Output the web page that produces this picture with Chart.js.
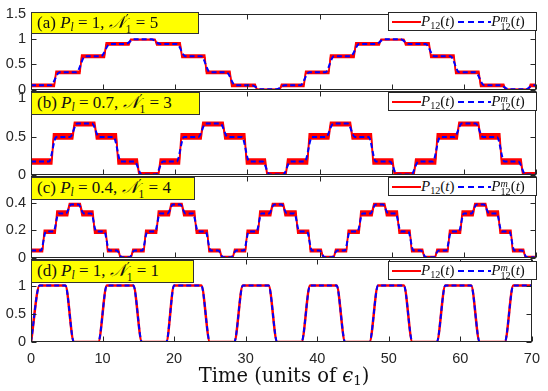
<!DOCTYPE html>
<html>
<head>
<meta charset="utf-8">
<script src="https://cdn.jsdelivr.net/npm/chart.js@4.4.0/dist/chart.umd.min.js"></script>
<style>
  html, body { margin:0; padding:0; background:#fff; }
  #wrap { position:relative; width:548px; height:391px; overflow:hidden; }
  canvas { position:absolute; left:0; top:0; }
  .lab { position:absolute; background:#ffff00; border:1px solid #333; box-sizing:border-box;
         font-family:"Liberation Serif","DejaVu Serif",serif; font-size:17px; line-height:20px;
         padding-left:5px; white-space:nowrap; color:#111; z-index:5; }
  .leg { position:absolute; background:#fff; border:1px solid #262626; box-sizing:border-box;
         font-family:"Liberation Serif","DejaVu Serif",serif; font-size:15px; line-height:17px;
         white-space:nowrap; color:#111; z-index:5; width:149px; height:19px; padding-left:3px; }
  .leg svg { vertical-align:middle; margin-top:-2px; }
  sub { font-size:68%; vertical-align:-3px; line-height:0; }
  .ss { display:inline-block; vertical-align:-4px; line-height:8px; font-size:68%; text-align:left; }
  .ss span { display:block; }
  .ns { display:inline-block; vertical-align:-5px; line-height:10px; text-align:left; margin-left:1px; }
  .ns .p { display:block; font-family:"DejaVu Serif",serif; font-size:13px; height:9px; }
  .ns .s { display:block; font-size:11.5px; }
  #xt { position:absolute; left:0; width:548px; top:364px; text-align:center; z-index:5;
        font-family:"DejaVu Serif","Liberation Serif",serif; font-size:19.5px; color:#111; padding-left:20px; box-sizing:border-box; }
</style>
</head>
<body>
<div id="wrap">
  <canvas id="ca" width="548" height="391"></canvas>
  <canvas id="cb" width="548" height="391"></canvas>
  <canvas id="cc" width="548" height="391"></canvas>
  <canvas id="cd" width="548" height="391"></canvas>

  <div class="lab" style="left:31px;top:12px;width:168px;height:22px">(a) <i>P<sub>l</sub></i> = 1, <i>𝒩</i><span class="ns"><span class="p">′</span><span class="s">1</span></span> = 5</div>
  <div class="lab" style="left:31px;top:92px;width:169px;height:23px">(b) <i>P<sub>l</sub></i> = 0.7, <i>𝒩</i><span class="ns"><span class="p">′</span><span class="s">1</span></span> = 3</div>
  <div class="lab" style="left:31px;top:177px;width:164px;height:23px">(c) <i>P<sub>l</sub></i> = 0.4, <i>𝒩</i><span class="ns"><span class="p">′</span><span class="s">1</span></span> = 4</div>
  <div class="lab" style="left:31px;top:260px;width:163px;height:23px">(d) <i>P<sub>l</sub></i> = 1, <i>𝒩</i><span class="ns"><span class="p">′</span><span class="s">1</span></span> = 1</div>

  <div class="leg" style="left:388px;top:12px"><svg width="29" height="6"><line x1="0" y1="3" x2="29" y2="3" stroke="#ff0000" stroke-width="2"/></svg><i>P</i><sub>12</sub>(<i>t</i>) <svg width="33" height="6"><line x1="0" y1="3" x2="33" y2="3" stroke="#0000ff" stroke-width="2" stroke-dasharray="6,4"/></svg><i>P</i><span class="ss"><span><i>m</i></span><span>12</span></span>(<i>t</i>)</div>
  <div class="leg" style="left:388px;top:92px"><svg width="29" height="6"><line x1="0" y1="3" x2="29" y2="3" stroke="#ff0000" stroke-width="2"/></svg><i>P</i><sub>12</sub>(<i>t</i>) <svg width="33" height="6"><line x1="0" y1="3" x2="33" y2="3" stroke="#0000ff" stroke-width="2" stroke-dasharray="6,4"/></svg><i>P</i><span class="ss"><span><i>m</i></span><span>12</span></span>(<i>t</i>)</div>
  <div class="leg" style="left:388px;top:177px"><svg width="29" height="6"><line x1="0" y1="3" x2="29" y2="3" stroke="#ff0000" stroke-width="2"/></svg><i>P</i><sub>12</sub>(<i>t</i>) <svg width="33" height="6"><line x1="0" y1="3" x2="33" y2="3" stroke="#0000ff" stroke-width="2" stroke-dasharray="6,4"/></svg><i>P</i><span class="ss"><span><i>m</i></span><span>12</span></span>(<i>t</i>)</div>
  <div class="leg" style="left:388px;top:261px"><svg width="29" height="6"><line x1="0" y1="3" x2="29" y2="3" stroke="#ff0000" stroke-width="2"/></svg><i>P</i><sub>12</sub>(<i>t</i>) <svg width="33" height="6"><line x1="0" y1="3" x2="33" y2="3" stroke="#0000ff" stroke-width="2" stroke-dasharray="6,4"/></svg><i>P</i><span class="ss"><span><i>m</i></span><span>12</span></span>(<i>t</i>)</div>

  <div id="xt">Time (units of <i>ϵ</i><sub>1</sub>)</div>
</div>
<script>
// ---------- shared x axis ----------
const xTickVals = [0, 10, 20, 30, 40, 50, 60, 70];

// ---------- panel (a): P_l = 1, N'_1 = 5 ----------
const edgesA = [0, 3.35, 6.9, 10.3, 13.7, 17.3, 20.8, 24.2, 27.7, 31.2, 34.6,
                37.95, 41.4, 44.9, 48.4, 51.8, 55.3, 58.75, 62.2, 65.65, 69.1, 72.5];
const stepsA = [1, 2, 3, 4, 5, 4, 3, 2, 1, 0, 1, 2, 3, 4, 5, 4, 3, 2, 1, 0, 1];
const bandLoA = [0, 0.058, 0.315, 0.635, 0.88, 0.982];
const bandHiA = [0.006, 0.105, 0.36, 0.685, 0.925, 0.996];
const blueA = [0.003, 0.085, 0.34, 0.658, 0.9, 0.995];
const yTicksA = [0, 0.5, 1, 1.5];

// ---------- panel (b): P_l = 0.7, N'_1 = 3 ----------
const edgesB = [0, 3.0, 5.9, 8.95, 11.95, 14.85, 17.8, 20.7, 23.7, 26.75, 29.75, 32.6,
                35.45, 38.45, 41.4, 44.4, 47.3, 50.25, 53.2, 56.2, 59.2, 62.15, 65.1, 68.05, 71];
const stepsB = [1, 2, 3, 2, 1, 0, 1, 2, 3, 2, 1, 0, 1, 2, 3, 2, 1, 0, 1, 2, 3, 2, 1, 0];
const bandLoB = [0, 0.143, 0.468, 0.643];
const bandHiB = [0.03, 0.207, 0.537, 0.687];
const blueB = [0.005, 0.175, 0.495, 0.67];
const yTicksB = [0, 0.5, 1];

// ---------- panel (c): P_l = 0.4, N'_1 = 4 ----------
const edgesC = [0, 1.72, 3.47, 5.2, 6.95, 8.7, 10.5, 12.25, 14.0, 15.78, 17.53, 19.3, 21.05,
                22.8, 24.55, 26.3, 28.1, 29.85, 31.6, 33.35, 35.1, 36.85, 38.6, 40.35, 42.1,
                43.85, 45.6, 47.4, 49.15, 50.9, 52.65, 54.4, 56.15, 57.9, 59.65, 61.4, 63.15,
                64.9, 66.65, 68.4, 70.15];
const stepsC = [1, 2, 3, 4, 3, 2, 1, 0, 1, 2, 3, 4, 3, 2, 1, 0, 1, 2, 3, 4, 3, 2, 1, 0,
                1, 2, 3, 4, 3, 2, 1, 0, 1, 2, 3, 4, 3, 2, 1, 0];
const bandLoC = [0, 0.043, 0.177, 0.305, 0.375];
const bandHiC = [0.008, 0.061, 0.199, 0.34, 0.394];
const blueC = [0.003, 0.052, 0.19, 0.322, 0.386];
const yTicksC = [0, 0.2, 0.4];

// ---------- panel (d): P_l = 1, N'_1 = 1 ----------
const timeD = [0, 1.2, 4.8, 6.0, 9.4, 10.6, 14.3, 15.5, 18.9, 20.0, 23.8, 25.0, 28.4, 29.6,
               33.2, 34.4, 37.8, 39.0, 42.7, 43.9, 47.3, 48.5, 52.1, 53.3, 56.7, 57.9,
               61.5, 62.7, 66.2, 67.4, 70];
const probD = [0, 1, 1, 0, 0, 1, 1, 0, 0, 1, 1, 0, 0, 1, 1, 0, 0, 1, 1, 0, 0, 1, 1, 0, 0, 1,
               1, 0, 0, 1, 1];
const yTicksD = [0, 0.5, 1];

// ---------- helpers building the point tables ----------
function stepTable(edges, steps, vals, inset) {
  const pts = [];
  for (let k = 0; k < steps.length; k++) {
    const v = vals[steps[k]];
    pts.push({ x: edges[k] + (k ? inset : 0), y: v });
    pts.push({ x: edges[k + 1] - inset, y: v });
  }
  return pts;
}
function pairTable(xs, ys) { return xs.map((x, i) => ({ x: x, y: ys[i] })); }

const RED = '#ff0000', BLUE = '#0000ff', INK = '#262626';
const tickFont = { family: "'Liberation Sans', Arial, sans-serif", size: 14.5 };

const framePlugin = {
  id: 'frame',
  afterDatasetsDraw(chart) {
    const { ctx, chartArea: a, scales } = chart;
    const x = scales.x, y = scales.y;
    ctx.save();
    ctx.strokeStyle = INK;
    ctx.lineWidth = 1;
    const L = Math.round(a.left) + 0.5, R = Math.round(a.right) - 0.5;
    const T = Math.round(a.top) + 0.5, B = Math.round(a.bottom) - 0.5;
    ctx.strokeRect(L, T, R - L, B - T);
    ctx.beginPath();
    xTickVals.forEach(v => {
      const px = Math.round(x.getPixelForValue(v)) + 0.5;
      ctx.moveTo(px, B); ctx.lineTo(px, B - 5);
      ctx.moveTo(px, T); ctx.lineTo(px, T + 5);
    });
    y.ticks.forEach(t => {
      const py = Math.round(y.getPixelForValue(t.value)) + 0.5;
      ctx.moveTo(L, py); ctx.lineTo(L + 5, py);
      ctx.moveTo(R, py); ctx.lineTo(R - 5, py);
    });
    ctx.stroke();
    ctx.restore();
  }
};

function makePanel(id, datasets, yMax, yTicks, top, bottom, showX) {
  return new Chart(document.getElementById(id), {
    type: 'line',
    data: { datasets: datasets },
    options: {
      responsive: false, animation: false, events: [],
      layout: { padding: { top: top, bottom: bottom, left: 0, right: 12 } },
      plugins: { legend: { display: false }, tooltip: { enabled: false } },
      elements: { point: { radius: 0 } },
      scales: {
        x: {
          type: 'linear', min: 0, max: 70, display: showX,
          afterBuildTicks: s => { s.ticks = xTickVals.map(v => ({ value: v })); },
          afterFit: s => { s.height = showX ? 49 : 0; },
          grid: { display: false, drawTicks: false }, border: { display: false },
          ticks: { font: tickFont, color: INK, padding: 8, maxRotation: 0, autoSkip: false,
                   callback: v => String(v) }
        },
        y: {
          type: 'linear', min: 0, max: yMax,
          afterBuildTicks: s => { s.ticks = yTicks.map(v => ({ value: v })); },
          afterFit: s => { s.width = 31; },
          grid: { display: false, drawTicks: false }, border: { display: false },
          ticks: { font: tickFont, color: INK, padding: 5, autoSkip: false,
                   callback: v => String(v) }
        }
      }
    },
    plugins: [framePlugin]
  });
}

function bandPanel(edges, steps, lo, hi, blue, w) {
  return [
    { label: 'P12m', data: stepTable(edges, steps, blue, w), borderColor: BLUE, borderWidth: 2,
      borderDash: [5, 3], cubicInterpolationMode: 'monotone', fill: false },
    { label: 'P12hi', data: stepTable(edges, steps, hi, 0.12), borderColor: RED, borderWidth: 1.5,
      backgroundColor: RED, fill: false, tension: 0 },
    { label: 'P12lo', data: stepTable(edges, steps, lo, 0.12), borderColor: RED, borderWidth: 1.5,
      backgroundColor: RED, fill: '-1', tension: 0 }
  ];
}

makePanel('ca', bandPanel(edgesA, stepsA, bandLoA, bandHiA, blueA, 0.6), 1.5, yTicksA, 12, 391 - 89.5, false);
makePanel('cb', bandPanel(edgesB, stepsB, bandLoB, bandHiB, blueB, 0.5), 1.095, yTicksB, 91, 391 - 175, false);
makePanel('cc', bandPanel(edgesC, stepsC, bandLoC, bandHiC, blueC, 0.35), 0.594, yTicksC, 176, 391 - 257.7, false);
makePanel('cd', [
  { label: 'P12m', data: pairTable(timeD, probD), borderColor: BLUE, borderWidth: 2,
    borderDash: [5, 3], cubicInterpolationMode: 'monotone', fill: false },
  { label: 'P12', data: pairTable(timeD, probD), borderColor: RED, borderWidth: 2.5,
    cubicInterpolationMode: 'monotone', fill: false }
], 1.47, yTicksD, 259, 0, true);
</script>
</body>
</html>
